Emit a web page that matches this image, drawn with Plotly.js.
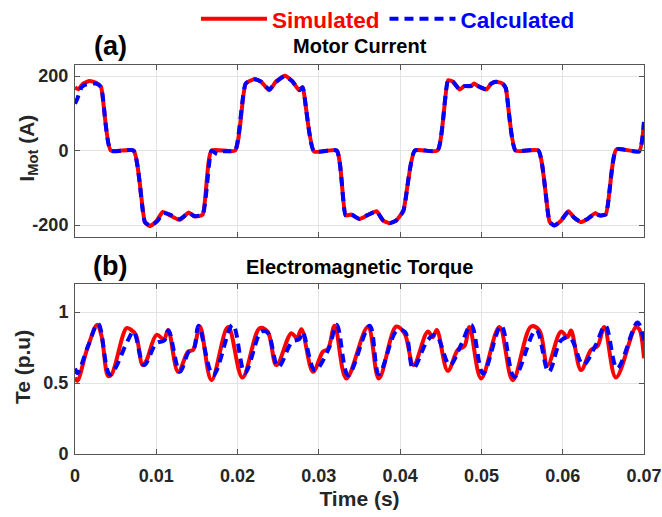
<!DOCTYPE html>
<html>
<head>
<meta charset="utf-8">
<script src="https://cdn.plot.ly/plotly-3.0.1.min.js"></script>
<style>html,body{margin:0;padding:0;background:#fff;}#chart{width:662px;height:517px;}</style>
</head>
<body>
<div id="chart"></div>
<script>
// Motor current (A) vs time (s)
const tCurSim = [0,0.0004,0.0010,0.0018,0.0026,0.0032,0.0044,0.0072,0.0086,0.0092,0.0100,0.0108,0.0117,0.0129,0.0140,0.0147,0.0157,0.0168,0.0197,0.0210,0.0221,0.0229,0.0239,0.0247,0.0258,0.0267,0.0276,0.0280,0.0294,0.0322,0.0333,0.0340,0.0350,0.0362,0.0371,0.0379,0.0387,0.0395,0.0404,0.0418,0.0446,0.0459,0.0465,0.0473,0.0479,0.0487,0.0491,0.0496,0.0506,0.0512,0.0518,0.0526,0.0530,0.0542,0.0570,0.0584,0.0590,0.0598,0.0607,0.0614,0.0622,0.0631,0.0640,0.0645,0.0653,0.0666,0.0694,0.0700];
const iSim = [170,165,180,187,182,171,0,0,-192,-203,-190,-165,-174,-186,-166,-177,-172,0,0,180,192,185,162,185,201,187,162,170,-2,0,-174,-172,-184,-171,-163,-188,-195,-188,-161,0,0,189,185,164,173,173,180,173,164,180,185,180,167,0,0,-192,-201,-188,-163,-180,-192,-183,-168,-174,-171,3,-2,77];
const tCurCal = [0,0.0003,0.0008,0.0014,0.0026,0.0032,0.0044,0.0072,0.0086,0.0093,0.0101,0.0109,0.0117,0.0129,0.0140,0.0147,0.0157,0.0168,0.0175,0.0183,0.0197,0.0210,0.0221,0.0229,0.0239,0.0247,0.0258,0.0267,0.0276,0.0280,0.0294,0.0322,0.0333,0.0340,0.0350,0.0362,0.0371,0.0379,0.0387,0.0395,0.0404,0.0418,0.0446,0.0459,0.0465,0.0473,0.0479,0.0487,0.0491,0.0496,0.0506,0.0512,0.0518,0.0526,0.0530,0.0542,0.0570,0.0584,0.0590,0.0598,0.0607,0.0614,0.0622,0.0631,0.0640,0.0645,0.0653,0.0666,0.0694,0.0700];
const iCal = [126,140,170,178,180,171,0,0,-192,-202,-190,-168,-172,-184,-168,-176,-172,0,-10,-2,0,180,192,185,164,184,200,187,163,170,-2,0,-174,-172,-183,-171,-164,-187,-195,-188,-162,0,0,189,185,165,173,174,179,173,165,180,185,180,168,0,0,-192,-201,-188,-164,-180,-191,-183,-169,-174,-171,3,-2,77];

// Electromagnetic torque (p.u) vs time (s)
const tTeSim = [0,0.00028,0.0015,0.00274,0.00328,0.00409,0.0045,0.00635,0.00688,0.00749,0.00832,0.0088,0.01004,0.01093,0.01146,0.01269,0.01392,0.01453,0.01536,0.01679,0.01883,0.02060,0.02273,0.02371,0.02478,0.02662,0.02731,0.02785,0.02928,0.03050,0.03112,0.03194,0.03338,0.03603,0.03738,0.03952,0.04054,0.04165,0.04340,0.04402,0.04451,0.04586,0.04709,0.04791,0.04853,0.04996,0.05221,0.05385,0.05611,0.05713,0.05814,0.05979,0.06060,0.06102,0.06225,0.06348,0.06429,0.06511,0.06655,0.06900,0.06941,0.07000];
const teSim = [0.539,0.515,0.74,0.910,0.827,0.548,0.56,0.887,0.875,0.839,0.626,0.66,0.839,0.808,0.874,0.579,0.721,0.733,0.898,0.520,0.894,0.539,0.887,0.86,0.626,0.851,0.816,0.879,0.579,0.721,0.74,0.903,0.532,0.894,0.532,0.898,0.85,0.626,0.862,0.823,0.874,0.586,0.733,0.76,0.894,0.532,0.894,0.520,0.898,0.87,0.626,0.862,0.823,0.87,0.591,0.733,0.76,0.894,0.539,0.894,0.88,0.674];
const tTeCal = [0,0.0003,0.0016,0.00286,0.0043,0.0065,0.0072,0.0085,0.0100,0.0110,0.0115,0.0129,0.0140,0.0146,0.0152,0.0170,0.0194,0.0209,0.0229,0.0237,0.0250,0.0267,0.0276,0.0280,0.0295,0.0312,0.0322,0.0336,0.03625,0.03738,0.0396,0.0406,0.0416,0.0434,0.0444,0.0461,0.0475,0.04874,0.0502,0.05242,0.05405,0.05672,0.05827,0.0598,0.0609,0.0625,0.0640,0.06525,0.0667,0.0692,0.0700];
const teCal = [0.603,0.57,0.76,0.917,0.56,0.80,0.862,0.626,0.78,0.80,0.87,0.579,0.72,0.74,0.903,0.555,0.91,0.572,0.86,0.855,0.614,0.79,0.81,0.86,0.59,0.74,0.91,0.555,0.903,0.562,0.87,0.86,0.603,0.803,0.839,0.626,0.77,0.91,0.567,0.903,0.543,0.874,0.579,0.80,0.82,0.63,0.76,0.903,0.603,0.926,0.79];

const xTicks = [0,0.01,0.02,0.03,0.04,0.05,0.06,0.07];
const xTickText = ['0','0.01','0.02','0.03','0.04','0.05','0.06','0.07'];
const iTicks = [-200,0,200];
const iTickText = ['-200','0','200'];
const teTicks = [0,0.5,1];
const teTickText = ['0','0.5','1'];

const FONT = 'Liberation Sans, Arial, sans-serif';
const simStyle = {color:'#ff0000', width:4};
const calStyle = {color:'#0000ff', width:4, dash:'9px,6px'};

const traces = [
  {x:tCurSim, y:iSim, xaxis:'x', yaxis:'y', mode:'lines', line:Object.assign({shape:'spline', smoothing:0.5}, simStyle),
   name:'<b><span style="color:#ff0000">Simulated</span></b>', showlegend:true},
  {x:tCurCal, y:iCal, xaxis:'x', yaxis:'y', mode:'lines', line:Object.assign({shape:'spline', smoothing:0.5}, calStyle),
   name:'<b><span style="color:#0000ff">Calculated</span></b>', showlegend:true},
  {x:tTeSim, y:teSim, xaxis:'x2', yaxis:'y2', mode:'lines', line:Object.assign({shape:'spline', smoothing:1}, simStyle), showlegend:false},
  {x:tTeCal, y:teCal, xaxis:'x2', yaxis:'y2', mode:'lines', line:Object.assign({shape:'spline', smoothing:1}, calStyle), showlegend:false}
];

const axBase = {
  showline:true, linecolor:'#555555', linewidth:1, mirror:'ticks',
  ticks:'inside', ticklen:5, tickcolor:'#555555',
  showgrid:true, gridcolor:'#e3e3e3', gridwidth:1, zeroline:false,
  tickfont:{family:FONT, size:18, color:'#262626', weight:'bold'}
};

const layout = {
  width:662, height:517,
  margin:{l:75, r:18, t:65, b:63, autoexpand:false},
  paper_bgcolor:'#ffffff', plot_bgcolor:'#ffffff',
  showlegend:true,
  legend:{orientation:'h', x:0.55, xanchor:'center', yref:'container', y:0.963, yanchor:'middle',
          font:{family:FONT, size:22.5}, itemwidth:66, tracegroupgap:0, bgcolor:'rgba(0,0,0,0)'},
  xaxis:Object.assign({}, axBase, {domain:[0,1], anchor:'y', range:[0,0.07], tickvals:xTicks, showticklabels:false}),
  yaxis:Object.assign({}, axBase, {domain:[0.558,1], anchor:'x', range:[-232,230], tickvals:iTicks, ticktext:iTickText,
          ticklabelstandoff:2}),
  xaxis2:Object.assign({}, axBase, {domain:[0,1], anchor:'y2', range:[0,0.07], tickvals:xTicks, ticktext:xTickText,
          ticklabelstandoff:5,
          title:{text:'<b>Time (s)</b>', font:{family:FONT, size:21, color:'#262626'}, standoff:6}}),
  yaxis2:Object.assign({}, axBase, {domain:[0,0.438], anchor:'x2', range:[0,1.2], tickvals:teTicks, ticktext:teTickText,
          ticklabelstandoff:2}),
  annotations:[
    {text:'<b>I<sub>Mot</sub> (A)</b>', xref:'paper', yref:'paper', x:-0.083, y:0.787, xanchor:'center', yanchor:'middle',
     textangle:-90, showarrow:false, font:{family:FONT, size:21, color:'#262626'}},
    {text:'<b>Te (p.u)</b>', xref:'paper', yref:'paper', x:-0.091, y:0.224, xanchor:'center', yanchor:'middle',
     textangle:-90, showarrow:false, font:{family:FONT, size:21, color:'#262626'}},
    {text:'<b>Motor Current</b>', xref:'paper', yref:'paper', x:0.5, y:1.0, yanchor:'bottom', yshift:6, showarrow:false,
     font:{family:FONT, size:20, color:'#000'}},
    {text:'<b>Electromagnetic Torque</b>', xref:'paper', yref:'paper', x:0.5, y:0.438, yanchor:'bottom', yshift:4, showarrow:false,
     font:{family:FONT, size:20, color:'#000'}},
    {text:'<b>(a)</b>', xref:'paper', yref:'paper', x:0.062, y:1.0, xanchor:'center', yanchor:'bottom', yshift:2, showarrow:false,
     font:{family:FONT, size:27, color:'#000'}},
    {text:'<b>(b)</b>', xref:'paper', yref:'paper', x:0.062, y:0.438, xanchor:'center', yanchor:'bottom', yshift:1, showarrow:false,
     font:{family:FONT, size:27, color:'#000'}}
  ]
};

Plotly.newPlot('chart', traces, layout, {displayModeBar:false, staticPlot:true});
</script>
</body>
</html>
